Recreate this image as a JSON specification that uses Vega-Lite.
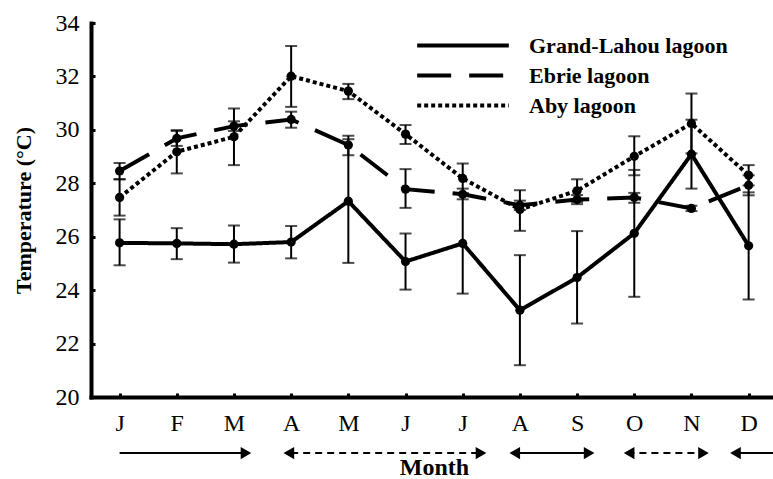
{
  "$schema": "https://vega.github.io/schema/vega-lite/v6.json",
  "autosize": "none",
  "width": 682,
  "height": 374,
  "padding": {"left": 91, "top": 23, "right": 0, "bottom": 82},
  "background": "white",
  "config": {
    "view": {"stroke": null},
    "font": "Liberation Serif, Times New Roman, serif",
    "axis": {
      "domainColor": "black", "domainWidth": 4, "domainCap": "square",
      "tickColor": "black", "tickWidth": 3, "tickSize": -4,
      "labelFont": "Liberation Serif, Times New Roman, serif", "labelFontSize": 24, "labelColor": "black",
      "titleFont": "Liberation Serif, Times New Roman, serif", "titleFontWeight": "bold", "titleColor": "black",
      "grid": false
    },
    "legend": {
      "labelFont": "Liberation Serif, Times New Roman, serif", "labelFontSize": 22, "labelFontWeight": "bold", "labelColor": "black", "labelLimit": 400
    }
  },
  "datasets": {
    "temps": [
      {"month": "J", "idx": 1, "lagoon": "Grand-Lahou lagoon", "mean": 25.77, "lo": 24.93, "hi": 26.65},
      {"month": "F", "idx": 2, "lagoon": "Grand-Lahou lagoon", "mean": 25.75, "lo": 25.16, "hi": 26.32},
      {"month": "M", "idx": 3, "lagoon": "Grand-Lahou lagoon", "mean": 25.72, "lo": 25.03, "hi": 26.42},
      {"month": "A", "idx": 4, "lagoon": "Grand-Lahou lagoon", "mean": 25.8, "lo": 25.19, "hi": 26.4},
      {"month": "M", "idx": 5, "lagoon": "Grand-Lahou lagoon", "mean": 27.33, "lo": 25.02, "hi": 29.65},
      {"month": "J", "idx": 6, "lagoon": "Grand-Lahou lagoon", "mean": 25.07, "lo": 24.02, "hi": 26.12},
      {"month": "J", "idx": 7, "lagoon": "Grand-Lahou lagoon", "mean": 25.75, "lo": 23.87, "hi": 27.63},
      {"month": "A", "idx": 8, "lagoon": "Grand-Lahou lagoon", "mean": 23.25, "lo": 21.19, "hi": 25.31},
      {"month": "S", "idx": 9, "lagoon": "Grand-Lahou lagoon", "mean": 24.47, "lo": 22.75, "hi": 26.21},
      {"month": "O", "idx": 10, "lagoon": "Grand-Lahou lagoon", "mean": 26.13, "lo": 23.75, "hi": 28.5},
      {"month": "N", "idx": 11, "lagoon": "Grand-Lahou lagoon", "mean": 29.09, "lo": 27.8, "hi": 30.38},
      {"month": "D", "idx": 12, "lagoon": "Grand-Lahou lagoon", "mean": 25.66, "lo": 23.65, "hi": 27.66},
      {"month": "J", "idx": 1, "lagoon": "Ebrie lagoon", "mean": 28.46, "lo": 28.15, "hi": 28.76},
      {"month": "F", "idx": 2, "lagoon": "Ebrie lagoon", "mean": 29.68, "lo": 29.4, "hi": 29.96},
      {"month": "M", "idx": 3, "lagoon": "Ebrie lagoon", "mean": 30.14, "lo": 29.96, "hi": 30.32},
      {"month": "A", "idx": 4, "lagoon": "Ebrie lagoon", "mean": 30.39, "lo": 30.08, "hi": 30.68},
      {"month": "M", "idx": 5, "lagoon": "Ebrie lagoon", "mean": 29.43, "lo": 29.05, "hi": 29.78},
      {"month": "J", "idx": 6, "lagoon": "Ebrie lagoon", "mean": 27.78, "lo": 27.08, "hi": 28.53},
      {"month": "J", "idx": 7, "lagoon": "Ebrie lagoon", "mean": 27.59, "lo": 27.4, "hi": 27.8},
      {"month": "A", "idx": 8, "lagoon": "Ebrie lagoon", "mean": 27.18, "lo": 27.0, "hi": 27.35},
      {"month": "S", "idx": 9, "lagoon": "Ebrie lagoon", "mean": 27.39, "lo": 27.22, "hi": 27.56},
      {"month": "O", "idx": 10, "lagoon": "Ebrie lagoon", "mean": 27.47, "lo": 27.27, "hi": 27.64},
      {"month": "N", "idx": 11, "lagoon": "Ebrie lagoon", "mean": 27.06, "lo": 26.96, "hi": 27.16},
      {"month": "D", "idx": 12, "lagoon": "Ebrie lagoon", "mean": 27.93, "lo": 27.55, "hi": 28.3},
      {"month": "J", "idx": 1, "lagoon": "Aby lagoon", "mean": 27.47, "lo": 26.79, "hi": 28.15},
      {"month": "F", "idx": 2, "lagoon": "Aby lagoon", "mean": 29.18, "lo": 28.37, "hi": 29.99},
      {"month": "M", "idx": 3, "lagoon": "Aby lagoon", "mean": 29.74, "lo": 28.68, "hi": 30.8},
      {"month": "A", "idx": 4, "lagoon": "Aby lagoon", "mean": 32.01, "lo": 30.86, "hi": 33.14},
      {"month": "M", "idx": 5, "lagoon": "Aby lagoon", "mean": 31.45, "lo": 31.15, "hi": 31.72},
      {"month": "J", "idx": 6, "lagoon": "Aby lagoon", "mean": 29.84, "lo": 29.47, "hi": 30.18},
      {"month": "J", "idx": 7, "lagoon": "Aby lagoon", "mean": 28.18, "lo": 27.62, "hi": 28.74},
      {"month": "A", "idx": 8, "lagoon": "Aby lagoon", "mean": 27.02, "lo": 26.22, "hi": 27.74},
      {"month": "S", "idx": 9, "lagoon": "Aby lagoon", "mean": 27.72, "lo": 27.3, "hi": 28.15},
      {"month": "O", "idx": 10, "lagoon": "Aby lagoon", "mean": 29.01, "lo": 28.3, "hi": 29.76},
      {"month": "N", "idx": 11, "lagoon": "Aby lagoon", "mean": 30.24, "lo": 29.12, "hi": 31.36},
      {"month": "D", "idx": 12, "lagoon": "Aby lagoon", "mean": 28.3, "lo": 27.92, "hi": 28.68}
    ],
    "seasons": [
      {"season": "Long dry season", "start": 1.0, "end": 3.25, "kind": "solid"},
      {"season": "Long rainy season", "start": 4.0, "end": 7.35, "kind": "dashed"},
      {"season": "Short dry season", "start": 7.88, "end": 9.24, "kind": "solid"},
      {"season": "Short rainy season", "start": 9.88, "end": 11.24, "kind": "dashed"},
      {"season": "Long dry season", "start": 11.74, "end": 12.8, "kind": "solid"}
    ],
    "heads": [
      {"season": "Long dry season", "at": 3.21, "dir": "right"},
      {"season": "Long rainy season", "at": 3.96, "dir": "left"},
      {"season": "Long rainy season", "at": 7.32, "dir": "right"},
      {"season": "Short dry season", "at": 7.91, "dir": "left"},
      {"season": "Short dry season", "at": 9.21, "dir": "right"},
      {"season": "Short rainy season", "at": 9.91, "dir": "left"},
      {"season": "Short rainy season", "at": 11.21, "dir": "right"},
      {"season": "Long dry season", "at": 11.77, "dir": "left"}
    ]
  },
  "layer": [
    {
      "data": {"name": "temps"},
      "mark": {"type": "line", "color": "black", "strokeWidth": 4},
      "encoding": {
        "x": {
          "field": "idx", "type": "quantitative",
          "scale": {"domain": [0.5, 12.426], "nice": false, "zero": false},
          "axis": {
            "values": [1,2,3,4,5,6,7,8,9,10,11,12],
            "labelExpr": "['J','F','M','A','M','J','J','A','S','O','N','D'][datum.value-1]",
            "labelPadding": 18, "title": "Month", "titleFontSize": 24, "titlePadding": 20, "titleX": 343
          }
        },
        "y": {
          "field": "mean", "type": "quantitative",
          "scale": {"domain": [20, 34], "nice": false, "zero": false},
          "axis": {
            "values": [20,22,24,26,28,30,32,34],
            "labelPadding": 16, "title": "Temperature (°C)", "titleFontSize": 22, "titlePadding": 20
          }
        },
        "strokeDash": {
          "field": "lagoon", "type": "nominal",
          "scale": {"domain": ["Grand-Lahou lagoon", "Ebrie lagoon", "Aby lagoon"], "range": [[1, 0], [34, 18], [4, 3]]},
          "legend": {
            "title": null, "orient": "none", "legendX": 324, "legendY": 8,
            "symbolType": "stroke", "symbolSize": 8400, "symbolStrokeWidth": 4, "symbolStrokeColor": "black",
            "clipHeight": 29, "rowPadding": 1, "labelOffset": 18, "padding": 0
          }
        },
        "detail": {"field": "lagoon"}
      }
    },
    {
      "data": {"name": "temps"},
      "mark": {"type": "rule", "color": "black", "strokeWidth": 2},
      "encoding": {
        "x": {"field": "idx", "type": "quantitative"},
        "y": {"field": "lo", "type": "quantitative"},
        "y2": {"field": "hi"}
      }
    },
    {
      "data": {"name": "temps"},
      "mark": {"type": "tick", "orient": "horizontal", "color": "black", "size": 12, "thickness": 2},
      "encoding": {
        "x": {"field": "idx", "type": "quantitative"},
        "y": {"field": "lo", "type": "quantitative"}
      }
    },
    {
      "data": {"name": "temps"},
      "mark": {"type": "tick", "orient": "horizontal", "color": "black", "size": 12, "thickness": 2},
      "encoding": {
        "x": {"field": "idx", "type": "quantitative"},
        "y": {"field": "hi", "type": "quantitative"}
      }
    },
    {
      "data": {"name": "temps"},
      "mark": {"type": "point", "filled": true, "color": "black", "opacity": 1, "size": 85},
      "encoding": {
        "x": {"field": "idx", "type": "quantitative"},
        "y": {"field": "mean", "type": "quantitative"}
      }
    },
    {
      "data": {"name": "seasons"},
      "transform": [{"filter": "datum.kind === 'solid'"}],
      "mark": {"type": "rule", "color": "black", "strokeWidth": 2, "clip": false},
      "encoding": {
        "x": {"field": "start", "type": "quantitative"},
        "x2": {"field": "end"},
        "y": {"datum": 17.9, "type": "quantitative"}
      }
    },
    {
      "data": {"name": "seasons"},
      "transform": [{"filter": "datum.kind === 'dashed'"}],
      "mark": {"type": "rule", "color": "black", "strokeWidth": 2, "strokeDash": [7, 5], "clip": false},
      "encoding": {
        "x": {"field": "start", "type": "quantitative"},
        "x2": {"field": "end"},
        "y": {"datum": 17.9, "type": "quantitative"}
      }
    },
    {
      "data": {"name": "heads"},
      "transform": [{"filter": "datum.dir === 'right'"}],
      "mark": {"type": "point", "shape": "triangle-right", "filled": true, "color": "black", "opacity": 1, "size": 150, "clip": false},
      "encoding": {
        "x": {"field": "at", "type": "quantitative"},
        "y": {"datum": 17.9, "type": "quantitative"}
      }
    },
    {
      "data": {"name": "heads"},
      "transform": [{"filter": "datum.dir === 'left'"}],
      "mark": {"type": "point", "shape": "triangle-left", "filled": true, "color": "black", "opacity": 1, "size": 150, "clip": false},
      "encoding": {
        "x": {"field": "at", "type": "quantitative"},
        "y": {"datum": 17.9, "type": "quantitative"}
      }
    }
  ]
}
